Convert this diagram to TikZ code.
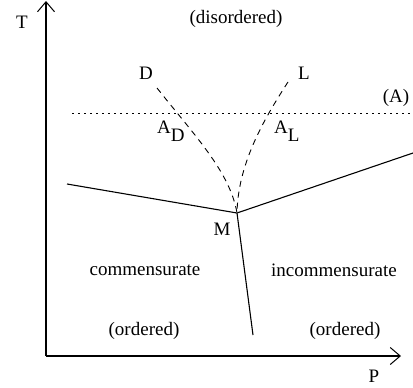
\documentclass[tikz,border=0pt]{standalone}
\usepackage{fontspec}
\setmainfont{Liberation Serif}
\usetikzlibrary{arrows.meta}
\begin{document}
\begin{tikzpicture}[x=1pt,y=-1pt,
  lbl/.style={inner sep=0pt,font=\fontsize{19}{22}\selectfont},
  axis/.style={line width=1.1pt,-{Straight Barb[length=10pt,width=17pt,line width=1pt]}},
  phase/.style={line width=1.1pt},
  spin/.style={line width=0.9pt,dash pattern=on 6pt off 5pt},
  ref/.style={line width=0.9pt,dash pattern=on 2pt off 4pt}]
\useasboundingbox (0,0) rectangle (413,388);
% axes
\coordinate (O) at (46,356);
\coordinate (Ttop) at (46,1);
\coordinate (Pend) at (401,356);
\draw[axis] (O) -- (Ttop);
\draw[axis] (O) -- (Pend);
\node[lbl] (T) at (22,22) {T};
\node[lbl] (P) at (374,376) {P};
% multicritical point
\coordinate (M) at (237,213);
\coordinate (left) at (67,184);
\coordinate (right) at (413,153);
\coordinate (bottom) at (253,335);
\draw[phase] (left) -- (M) -- (right);
\draw[phase] (M) -- (bottom);
% dashed lines
\coordinate (Dstart) at (157,88);
\coordinate (Lstart) at (288,82);
\draw[spin] (Dstart) .. controls (195,136) and (230,172) .. (M);
\draw[spin] (Lstart) .. controls (262,122) and (238,165) .. (M);
% dotted line
\coordinate (Aleft) at (72,113);
\coordinate (Aright) at (413,113);
\draw[ref] (Aleft) -- (Aright);
% labels
\node[lbl] (dis) at (236,19) {(disordered)};
\node[lbl] (D) at (146,73) {D};
\node[lbl] (L) at (304,73) {L};
\node[lbl] (A) at (396,98) {(A)};
\node[lbl,anchor=west] (AD) at (157,131) {A\raisebox{-8pt}{D}};
\node[lbl,anchor=west] (AL) at (274,131) {A\raisebox{-8pt}{L}};
\node[lbl] (Mlbl) at (222,229) {M};
\node[lbl] (com) at (145,270) {commensurate};
\node[lbl] (inc) at (334,270) {incommensurate};
\node[lbl] (ordL) at (144,331) {(ordered)};
\node[lbl] (ordR) at (345,331) {(ordered)};
\end{tikzpicture}
\end{document}
